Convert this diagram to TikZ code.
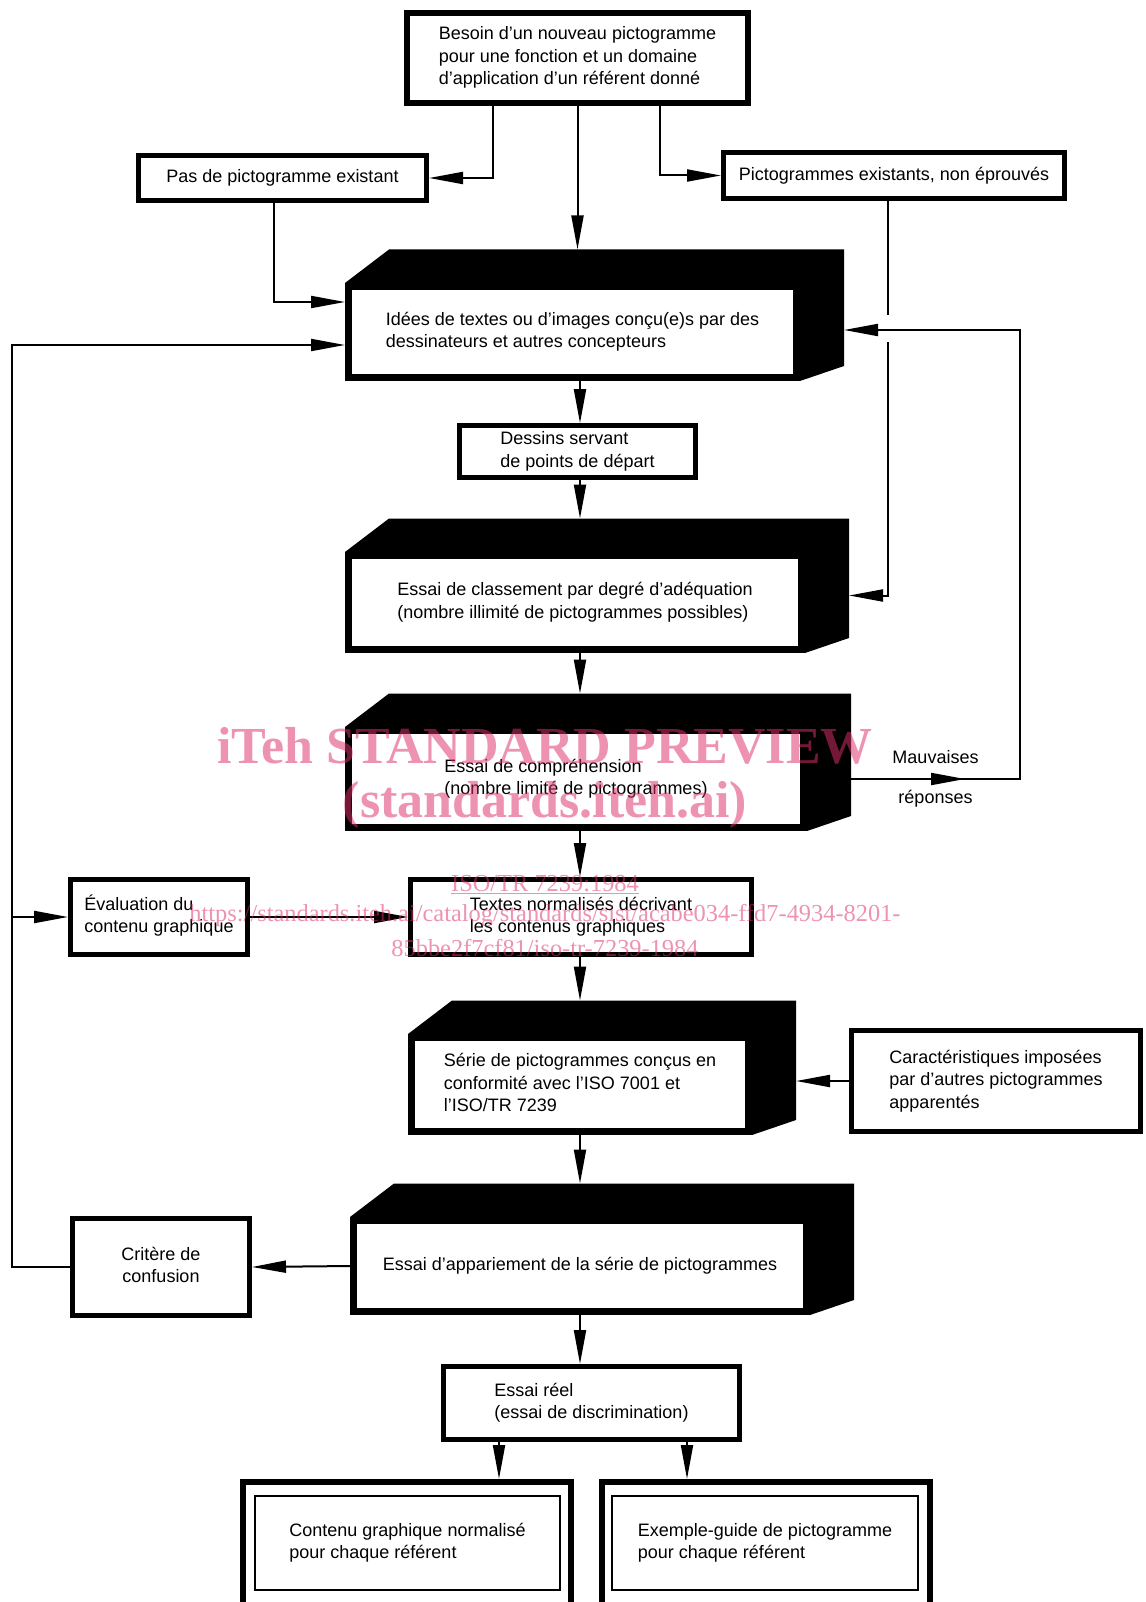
\documentclass[tikz,border=0pt]{standalone}
\usepackage{fontspec}
\setmainfont{Liberation Sans}
\newfontfamily\wmserif{Liberation Serif}
\usetikzlibrary{arrows.meta, decorations.markings}

\definecolor{wmpink}{RGB}{221,48,106}
\newcommand{\boxfont}{\fontsize{18}{22.5}\selectfont}

\begin{document}
\begin{tikzpicture}[
    x=1pt, y=-1pt,
    >={Triangle[length=34pt,width=12pt]},
    box/.style={
        draw,
        line width=5pt,
        fill=white,
        font=\boxfont
    },
    blockbox/.style={box, line width=7pt},
    innerbox/.style={box, line width=2.5pt},
    outerframe/.style={draw, line width=6pt},
    lbl/.style={font=\boxfont},
    conn/.style={line width=2pt},
    arr/.style={conn, ->},
    watermark/.style={text=wmpink, opacity=0.52}
]
\useasboundingbox (0,0) rectangle (1145,1602);

% ---------------- START ----------------
\node[box, line width=6pt, minimum width=341pt, minimum height=90pt] (besoin) at (577.5,58)   {\begin{tabular}{l} Besoin d'un nouveau pictogramme \\ pour une fonction et un domaine \\ d'application d'un référent donné \end{tabular}};
\node[box, minimum width=288pt, minimum height=45pt]                 (pas)    at (282.5,178)  {Pas de pictogramme existant};
\node[box, minimum width=341pt, minimum height=46pt]                 (picex)  at (894,175.5)  {Pictogrammes existants, non éprouvés};

% ---------------- MAIN COLUMN ----------------
\node[blockbox, minimum width=448pt, minimum height=91pt] (idees)         at (572.5,332)  {\begin{tabular}{l} Idées de textes ou d'images conçu(e)s par des \\ dessinateurs et autres concepteurs \end{tabular}};
\node[box,      minimum width=236pt, minimum height=48pt] (dessins)       at (577.5,451.5){\begin{tabular}{l} Dessins servant \\ de points de départ \end{tabular}};
\node[blockbox, minimum width=453pt, minimum height=94pt] (classement)    at (575,602.5)  {\begin{tabular}{l} Essai de classement par degré d'adéquation \\ (nombre illimité de pictogrammes possibles) \end{tabular}};
\node[blockbox, minimum width=455pt, minimum height=97pt] (comprehension) at (576,779)    {\begin{tabular}{l} Essai de compréhension \\ (nombre limité de pictogrammes) \end{tabular}};
\node[box,      minimum width=341pt, minimum height=75pt] (textes)        at (581,917)    {\begin{tabular}{l} Textes normalisés décrivant \\ les contenus graphiques \end{tabular}};
\node[blockbox, minimum width=337pt, minimum height=94pt] (serie)         at (580,1084.5) {\begin{tabular}{l} Série de pictogrammes conçus en \\ conformité avec l'ISO 7001 et \\ l'ISO/TR 7239 \end{tabular}};
\node[blockbox, minimum width=453pt, minimum height=91pt] (appariement)   at (580,1266)   {Essai d'appariement de la série de pictogrammes};
\node[box,      minimum width=296pt, minimum height=73pt] (reel)          at (591.5,1403) {\begin{tabular}{l} Essai réel \\ (essai de discrimination) \end{tabular}};

% ---------------- SIDE BOXES ----------------
\node[box, minimum width=177pt, minimum height=75pt]  (evaluation) at (159,917)   {\begin{tabular}{l} Évaluation du \\ contenu graphique \end{tabular}};
\node[box, minimum width=177pt, minimum height=97pt]  (critere)    at (161,1267)  {\begin{tabular}{c} Critère de \\ confusion \end{tabular}};
\node[box, minimum width=289pt, minimum height=101pt] (caract)     at (996,1081)  {\begin{tabular}{l} Caractéristiques imposées \\ par d'autres pictogrammes \\ apparentés \end{tabular}};

% ---------------- RESULTS ----------------
\node[outerframe, minimum width=328pt, minimum height=125pt] (contenu-frame) at (407,1544.5) {};
\node[outerframe, minimum width=328pt, minimum height=125pt] (exemple-frame) at (766,1544.5) {};
\node[innerbox,   minimum width=305pt, minimum height=94pt]  (contenu)       at (407.5,1543) {\begin{tabular}{l} Contenu graphique normalisé \\ pour chaque référent \end{tabular}};
\node[innerbox,   minimum width=306pt, minimum height=94pt]  (exemple)       at (765,1543)   {\begin{tabular}{l} Exemple-guide de pictogramme \\ pour chaque référent \end{tabular}};

% solid look: black top and right faces
\foreach \b in {idees, classement, comprehension, serie, appariement} {
    \fill (\b.north west) -- ([shift={(44,-33.5)}]\b.north west) -- ([shift={(44,-33.5)}]\b.north east)
          -- ([shift={(44,-15)}]\b.south east) -- (\b.south east) -- (\b.north east) -- cycle;
    \coordinate (\b-top)   at ([yshift=33.5pt]\b.north);
    \coordinate (\b-right) at ([xshift=44pt]\b.east);
}

\coordinate (spine)    at (580,0);
\coordinate (rail)     at (12,0);
\coordinate (crossing) at (888,330);
\coordinate (feedback) at (1020,330);

% Start:
\draw[arr] ([xshift=-84.5pt]besoin.south) |- (pas.east);
\draw[arr] ([xshift=82.5pt]besoin.south)  |- (picex.west);
\draw[arr] (besoin.south) -- (besoin.south |- idees-top);
\draw[arr] ([xshift=-8.5pt]pas.south)     |- ([yshift=30pt]idees.west);

% Existing pictograms (line broken at the crossing)
\draw[conn] (crossing |- picex.south) -- ([yshift=15pt]crossing);
\draw[arr]  ([yshift=-12pt]crossing)  |- ([yshift=7pt]classement-right);

% Main column
\draw[arr] (spine |- idees.south)         -- (spine |- dessins.north);
\draw[arr] (spine |- dessins.south)       -- (spine |- classement-top);
\draw[arr] (spine |- classement.south)    -- (spine |- comprehension-top);
\draw[arr] (spine |- comprehension.south) -- (spine |- textes.north);
\draw[arr] (spine |- textes.south)        -- (spine |- serie-top);
\draw[arr] (spine |- serie.south)         -- (spine |- appariement-top);
\draw[arr] (spine |- appariement.south)   -- (spine |- reel.north);
\draw[arr] (caract.west) -- (caract.west -| serie-right);

% Results:
\draw[arr] ([xshift=-92.5pt]reel.south) -- ([xshift=-92.5pt]reel.south |- contenu-frame.north);
\draw[arr] ([xshift=95.5pt]reel.south)  -- ([xshift=95.5pt]reel.south |- exemple-frame.north);

% Feedback: confusion
\draw[arr] (appariement.west) -- (critere.east);
\draw[arr] (critere.west) -- (critere.west -| rail) |- ([yshift=-13pt]idees.west);
\draw[arr] (rail |- evaluation.west) -- (evaluation.west);
\draw[arr] (evaluation.east) -- (textes.west);

% Feedback: wrong answers
\draw[arr, postaction={decorate, decoration={markings, mark=at position 114pt with {\arrow{>}}}}]
    (comprehension-right) -- (comprehension-right -| feedback)
        node[lbl, midway, above=11pt] {Mauvaises}
        node[lbl, midway, below=7pt]  {réponses}
    -- (feedback) -- (idees-right |- feedback);

% ---------------- WATERMARK ----------------
\node[watermark, font=\wmserif\bfseries\fontsize{52}{56}\selectfont]   (wm-title) at (545,746) {iTeh STANDARD PREVIEW};
\node[watermark, font=\wmserif\bfseries\fontsize{52}{56}\selectfont]   (wm-site)  at (545,805) {(standards.iteh.ai)};
\node[watermark, font=\wmserif\fontsize{24.4}{30}\selectfont]          (wm-iso)   at (545,885) {\underline{ISO/TR 7239:1984}};
\node[watermark, font=\wmserif\fontsize{24.4}{30}\selectfont]          (wm-url1)  at (545,916) {https://standards.iteh.ai/catalog/standards/sist/acabe034-ffd7-4934-8201-};
\node[watermark, font=\wmserif\fontsize{24.4}{30}\selectfont]          (wm-url2)  at (545,948) {85bbe2f7cf81/iso-tr-7239-1984};

\end{tikzpicture}
\end{document}
